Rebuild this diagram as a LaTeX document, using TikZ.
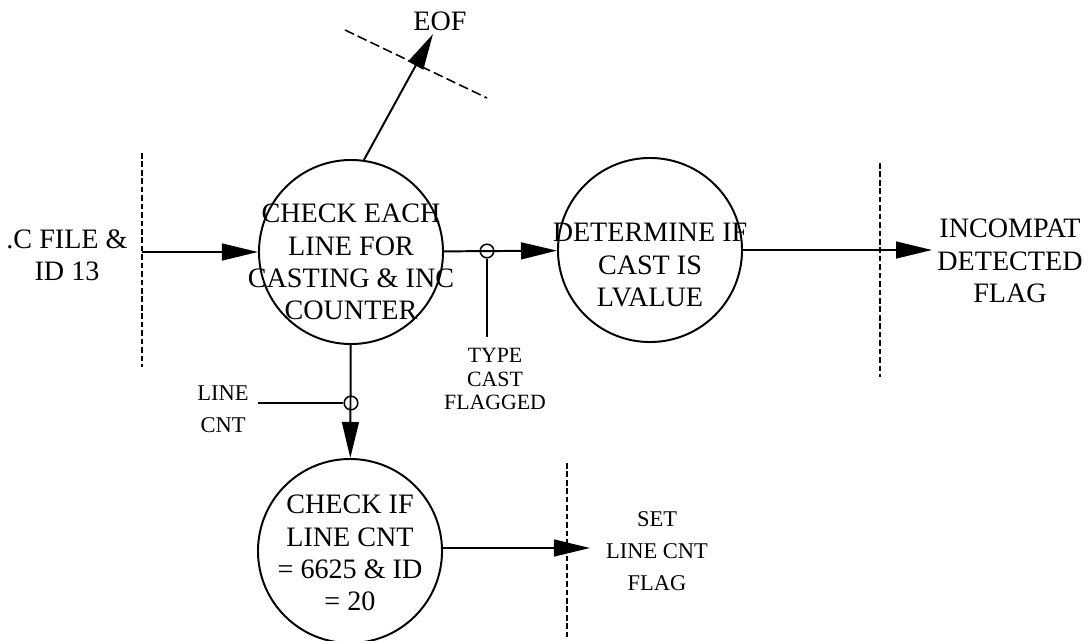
\documentclass[tikz,border=0pt]{standalone}
\usepackage{fontspec}
\setmainfont{Liberation Serif}
\usepackage{tikz}
\usetikzlibrary{arrows.meta, calc, positioning}

\begin{document}
\begin{tikzpicture}[x=0.025cm, y=-0.025cm, >={Triangle[length=0.9cm, width=0.42cm]},
        line width=1.4pt,
        proc/.style={circle, draw, minimum size=4.6cm, inner sep=0pt},
        tap/.style={circle, draw, line width=1.1pt, minimum size=0.34cm, inner sep=0pt},
        big/.style={align=center, font=\fontsize{20}{23}\selectfont},
        small/.style={align=center, font=\fontsize{16}{23}\selectfont},
        edge/.style={dashed, dash pattern=on 4pt off 2pt, line width=1.1pt}]

        \useasboundingbox (0,0) rectangle (1092,640);

        % --- processes ---
        \node[proc] (chk) at (351,252) {};
        \node[big] at (351,262) {CHECK EACH\\LINE FOR\\CASTING \& INC\\COUNTER};

        \node[proc] (det) at (650,250) {};
        \node[big] at (650,265) {DETERMINE IF\\CAST IS\\LVALUE};

        \node[proc] (lcc) at (350,551) {};
        \node[big] at (350,553) {CHECK IF\\LINE CNT\\= 6625 \& ID\\= 20};

        % --- input: .C file ---
        \node[big] (cfile) at (67,255) {.C FILE \&\\ID 13};
        \draw[edge] (142,153) -- (142,367);
        \coordinate (cin) at (142,252);
        \draw[->] (cin) -- (chk);

        % --- EOF exit ---
        \node[big] (eof) at (440,21) {EOF};
        \coordinate (eoftip) at (433,34);
        \draw[->] (chk.82) -- (eoftip);
        \draw[edge, dash pattern=on 7pt off 3pt] (345,30) -- (487,98);

        % --- type cast flagged ---
        \draw[->] (chk) -- (det);
        \node[tap] (j1) at (487,251) {};
        \node[small, font=\fontsize{15.5}{16.5}\selectfont] (tcf) at (495,379) {TYPE\\CAST\\FLAGGED};
        \draw (j1) -- (j1 |- 0,337);

        % --- incompat detected ---
        \node[big] (inc) at (1010,261) {INCOMPAT\\DETECTED\\FLAG};
        \draw[edge] (880,163) -- (880,377);
        \coordinate (incin) at (932,250);
        \draw[->] (det) -- (incin);

        % --- line count ---
        \draw[->] (chk) -- (lcc);
        \node[tap] (j2) at (351,403) {};
        \node[small] (lc) at (223,409) {LINE\\CNT};
        \draw (258,403) -- (j2);

        % --- set line cnt flag ---
        \node[small] (set) at (657,551) {SET\\LINE CNT\\FLAG};
        \draw[edge] (567,463) -- (567,640);
        \coordinate (setin) at (590,548);
        \draw[->] (lcc.east |- setin) -- (setin);

\end{tikzpicture}
\end{document}
